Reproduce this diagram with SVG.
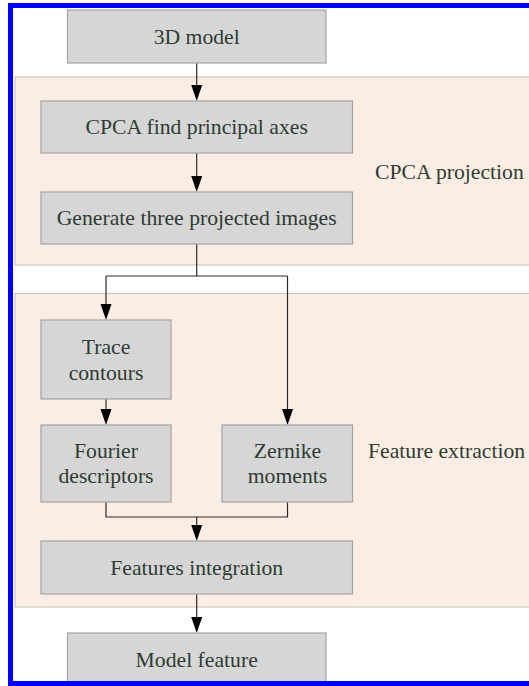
<svg xmlns="http://www.w3.org/2000/svg" width="529" height="686" viewBox="0 0 529 686">
<style>
.panel{fill:#fcede4;stroke:#cdc6be;stroke-width:1.2}
.box{fill:#d6d6d6;stroke:#a3a3a3;stroke-width:1.2}
.t{font-family:"Liberation Serif","Times New Roman","DejaVu Serif",serif;font-size:21.7px;fill:#2e3c32}
.c{text-anchor:middle}
.edge{fill:none;stroke:#2a2a2a;stroke-width:1.2}
.head{fill:#000}
</style>
<rect width="529" height="686" fill="#fff"/>
<g id="panel-cpca">
<rect class="panel" x="15" y="77" width="530" height="188"/>
<text class="t" x="375" y="179">CPCA projection</text>
</g>
<g id="panel-feature">
<rect class="panel" x="15" y="293.5" width="530" height="313.5"/>
<text class="t" x="368" y="458">Feature extraction</text>
</g>
<g id="connectors">
<path class="edge" d="M196.7,63 V90"/>
<path class="edge" d="M196.7,153 V180"/>
<path class="edge" d="M196.7,244 V276 M106,276 H287.5 M106,276 V308 M287.5,276 V413"/>
<path class="edge" d="M106,399 V413"/>
<path class="edge" d="M106,502 V517 H287.5 V502 M196.7,517 V529"/>
<path class="edge" d="M196.7,594 V621"/>
<path class="head" d="M191.2,85 H202.2 L196.7,101 Z"/>
<path class="head" d="M191.2,176 H202.2 L196.7,192 Z"/>
<path class="head" d="M100.5,304 H111.5 L106,320 Z"/>
<path class="head" d="M282,409 H293 L287.5,425 Z"/>
<path class="head" d="M100.5,409 H111.5 L106,425 Z"/>
<path class="head" d="M191.2,525 H202.2 L196.7,541 Z"/>
<path class="head" d="M191.2,617 H202.2 L196.7,633 Z"/>
</g>
<g id="n-3d-model">
<rect class="box" x="67.5" y="10" width="258.5" height="53"/>
<text class="t c" x="196.7" y="43.5">3D model</text>
</g>
<g id="n-cpca-axes">
<rect class="box" x="41" y="101" width="311.5" height="52"/>
<text class="t c" x="196.7" y="134">CPCA find principal axes</text>
</g>
<g id="n-generate">
<rect class="box" x="41" y="192" width="311.5" height="52"/>
<text class="t c" x="196.7" y="225">Generate three projected images</text>
</g>
<g id="n-trace">
<rect class="box" x="41" y="320" width="130" height="79"/>
<text class="t c" x="106" y="354">Trace</text>
<text class="t c" x="106" y="380">contours</text>
</g>
<g id="n-fourier">
<rect class="box" x="41" y="425" width="130" height="77"/>
<text class="t c" x="106" y="458">Fourier</text>
<text class="t c" x="106" y="483">descriptors</text>
</g>
<g id="n-zernike">
<rect class="box" x="222" y="425" width="130.5" height="77"/>
<text class="t c" x="287.5" y="458">Zernike</text>
<text class="t c" x="287.5" y="483">moments</text>
</g>
<g id="n-integration">
<rect class="box" x="41" y="541" width="311.5" height="53"/>
<text class="t c" x="196.7" y="574.5">Features integration</text>
</g>
<g id="n-model-feature">
<rect class="box" x="67.5" y="633" width="258.5" height="55"/>
<text class="t c" x="196.7" y="666.5">Model feature</text>
</g>
<rect x="10.5" y="5.5" width="540" height="678" fill="none" stroke="#0000ff" stroke-width="5"/>
</svg>
